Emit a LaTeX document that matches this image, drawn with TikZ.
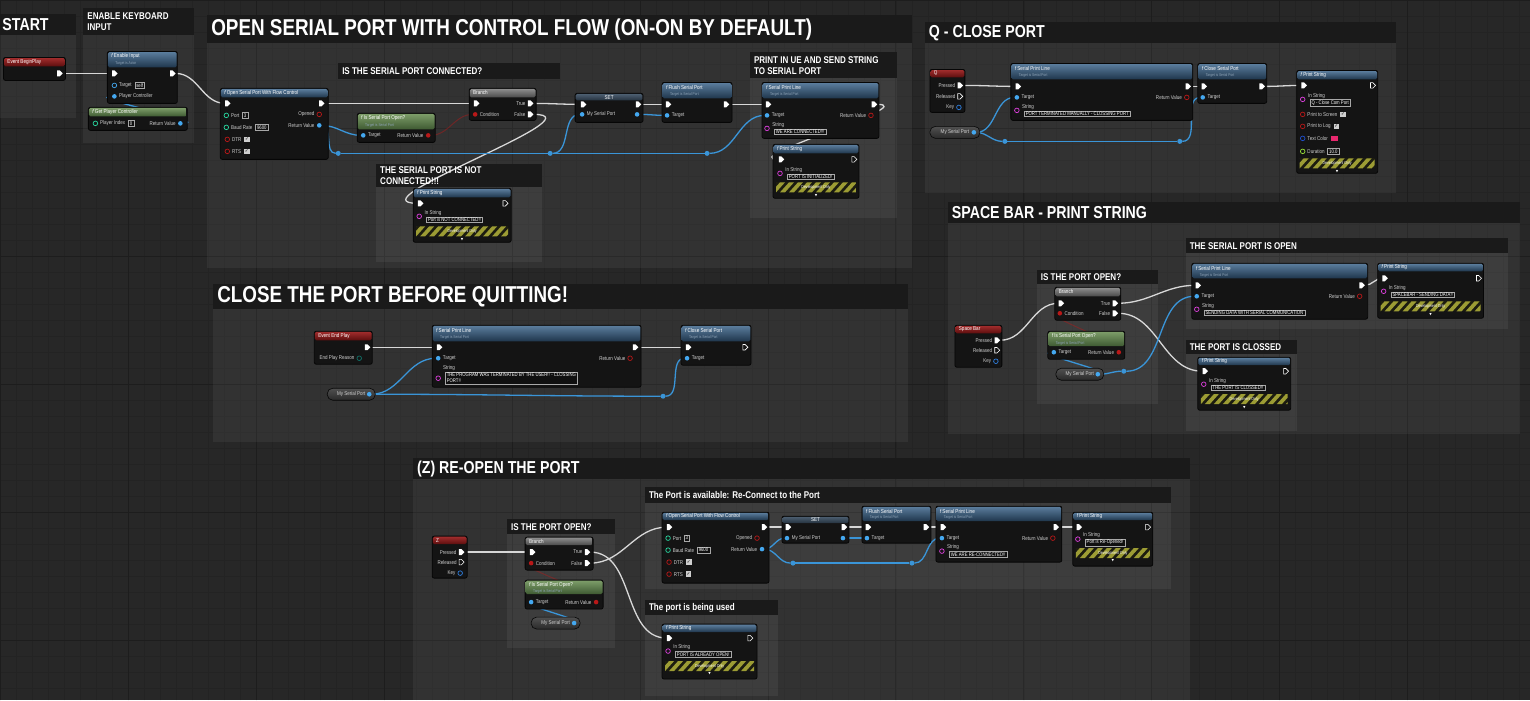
\documentclass[tikz,border=0pt]{standalone}
\usepackage{fontspec}
\setmainfont{Liberation Sans}[FakeStretch=0.82]
\newfontfamily\symfont{DejaVu Sans}
\usepackage{tikz}
\usetikzlibrary{shapes.symbols}
\definecolor{BgCol}{HTML}{272727}
\definecolor{GridMinor}{HTML}{232323}
\definecolor{GridMajor}{HTML}{1D1D1D}
\definecolor{CmtBar}{HTML}{1A1A1A}
\definecolor{NodeBody}{HTML}{141414}
\definecolor{NodeLine}{HTML}{060606}
\definecolor{FnTop}{HTML}{5A7C9C}
\definecolor{FnBot}{HTML}{1F364C}
\definecolor{EvTop}{HTML}{A02C2C}
\definecolor{EvBot}{HTML}{5C0E0E}
\definecolor{PureTop}{HTML}{7C9C68}
\definecolor{PureBot}{HTML}{3E5A32}
\definecolor{BrTop}{HTML}{8C8C8C}
\definecolor{BrBot}{HTML}{4A4A4A}
\definecolor{SetTop}{HTML}{4C5E70}
\definecolor{SetBot}{HTML}{25323F}
\definecolor{ExecWire}{HTML}{D8D8D8}
\definecolor{ObjWire}{HTML}{3A95D8}
\definecolor{ObjPin}{HTML}{44A8F0}
\definecolor{BoolPin}{HTML}{B81818}
\definecolor{StrPin}{HTML}{E040E0}
\definecolor{IntPin}{HTML}{28D8A0}
\definecolor{FltPin}{HTML}{98E038}
\definecolor{KeyPin}{HTML}{2E7FE0}
\definecolor{ColPin}{HTML}{2050D0}
\definecolor{EnumPin}{HTML}{107068}
\definecolor{PinText}{HTML}{D0D0D0}
\definecolor{SubText}{HTML}{8FA4B8}
\definecolor{FieldLine}{HTML}{A8A8A8}
\definecolor{FieldFill}{HTML}{101010}
\definecolor{ChkFill}{HTML}{CFCFCF}
\definecolor{HazYel}{HTML}{9C9C34}
\definecolor{HazDark}{HTML}{1C1C10}
\definecolor{Swatch}{HTML}{E8286E}
\definecolor{VarTop}{HTML}{505050}
\definecolor{VarBot}{HTML}{2A2A2A}
\pgfdeclarelayer{bg}
\pgfdeclarelayer{wires}
\pgfsetlayers{bg,wires,main}
% comment box: name, x, y, w, h, bar height, title style, title
\newcommand{\bpcomment}[8]{%
  \begin{pgfonlayer}{bg}
    \fill[cmtbody] (#2,#3) rectangle ++(#4,#5);
    \fill[cmtbar] (#2,#3) rectangle ++(#4,#6);
  \end{pgfonlayer}
  \node[#7,anchor=west] (#1) at ({#2+4},{#3+#6/2}) {#8};}
% blueprint node: name, x, y, w, h, header height, header style
\newcommand{\bpnode}[7]{%
  \node[bpbody,minimum width=#4pt,minimum height=#5pt,anchor=north west] (#1) at (#2,#3) {};
  \path[#7,rounded corners=1.5pt] ({#2+0.6},{#3+0.6}) rectangle ({#2+#4-0.6},{#3+#6});}
\newcommand{\bptitle}[3]{\node[nodetitle,anchor=west] (#1-ttl) at ([shift={(4pt,-#2pt)}]#1.north west) {#3};}
\newcommand{\bpsubt}[2]{\node[nodesub,anchor=west] (#1-sub) at ([shift={(8pt,-11.8pt)}]#1.north west) {#2};}
\newcommand{\pinin}[4]{\node[#3] (#1) at (#2) {};
  \node[plabel,anchor=west] (#1-l) at ([xshift=2.5pt]#1.east) {#4};}
\newcommand{\pinout}[4]{\node[#3] (#1) at (#2) {};
  \node[plabel,anchor=east] (#1-l) at ([xshift=-2.5pt]#1.west) {#4};}
\newcommand{\field}[3]{\node[fieldbox,anchor=west] (#1) at ([xshift=3pt]#2.east) {#3};}
\newcommand{\bpcheck}[2]{\node[chk,anchor=west] (#1) at ([xshift=3pt]#2.east) {\symfont ✓};}
\newcommand{\strpin}[4]{\node[strp] (#1) at (#2) {};
  \node[plabel,anchor=west] (#1-l) at ([shift={(3pt,3.6pt)}]#1.east) {#3};
  \node[fieldbox,anchor=west] (#1-f) at ([shift={(5pt,-3.4pt)}]#1.east) {#4};}
\newcommand{\varget}[4]{\node[varget,minimum width=#4pt,anchor=west] (#1) at (#2,#3) {My Serial Port\hspace{7pt}};
  \node[objp] (#1-o) at ([xshift=-6pt]#1.east) {};}
\newcommand{\devonly}[4]{%
  \begin{scope}[shift={(#2,#3)}]
    \begin{scope}
      \clip (0,0) rectangle (#4,10);
      \fill[HazDark] (0,0) rectangle (#4,10);
      \foreach \s in {-14,-5,...,#4}{\fill[HazYel] (\s,10) -- ++(5,0) -- ++(9,-10) -- ++(-5,0) -- cycle;}
    \end{scope}
    \node[devtext] (#1) at ({#4/2},5) {Development Only};
    \node[devtext] (#1-a) at ({#4/2},13) {\symfont\fontsize{3.2}{3.2}\selectfont ▼};
  \end{scope}}

\begin{document}
\begin{tikzpicture}[x=1pt,y=-1pt,
  every node/.style={inner sep=0pt,outer sep=0pt,text=white},
  cmtbody/.style={fill=white,fill opacity=0.055},
  cmtbar/.style={fill=CmtBar},
  cmthuge/.style={font=\bfseries\fontsize{23}{25}\selectfont},
  cmtbig/.style={font=\bfseries\fontsize{17.3}{19}\selectfont},
  cmtsmall/.style={font=\bfseries\fontsize{9.8}{11.2}\selectfont,align=left},
  bpbody/.style={draw=NodeLine,fill=NodeBody,rounded corners=2pt,line width=0.8pt},
  fnhead/.style={top color=FnTop,bottom color=FnBot},
  evhead/.style={top color=EvTop,bottom color=EvBot},
  purehead/.style={top color=PureTop,bottom color=PureBot},
  brhead/.style={top color=BrTop,bottom color=BrBot},
  sethead/.style={top color=SetTop,bottom color=SetBot},
  nodetitle/.style={font=\fontsize{5.6}{6.5}\selectfont},
  nodesub/.style={font=\fontsize{4}{5}\selectfont,text=SubText},
  plabel/.style={font=\fontsize{5.5}{6}\selectfont,text=PinText},
  fieldbox/.style={draw=FieldLine,line width=0.4pt,fill=FieldFill,font=\fontsize{5.2}{6}\selectfont,inner xsep=1.6pt,inner ysep=1pt,align=left},
  chk/.style={fill=ChkFill,text=black,minimum size=5.5pt,font=\fontsize{4.5}{4.5}\selectfont},
  swatch/.style={fill=Swatch,minimum width=7pt,minimum height=5.5pt},
  devtext/.style={font=\fontsize{4.3}{5}\selectfont},
  xp/.style={shape=signal,fill=white,minimum width=5.5pt,minimum height=6pt},
  xo/.style={shape=signal,draw=white,line width=0.6pt,minimum width=5pt,minimum height=5.5pt},
  dp/.style={circle,minimum size=4.6pt,line width=0.7pt},
  objp/.style={dp,fill=ObjPin},
  objo/.style={dp,draw=ObjPin},
  boolp/.style={dp,fill=BoolPin},
  boolo/.style={dp,draw=BoolPin},
  strp/.style={dp,draw=StrPin},
  intp/.style={dp,draw=IntPin},
  fltp/.style={dp,draw=FltPin},
  keyp/.style={dp,draw=KeyPin},
  colp/.style={dp,draw=ColPin},
  enump/.style={dp,draw=EnumPin},
  knot/.style={circle,fill=ObjWire,minimum size=5pt},
  varget/.style={rounded corners=5.5pt,top color=VarTop,bottom color=VarBot,draw=NodeLine,line width=0.6pt,minimum height=12pt,font=\fontsize{5.5}{6}\selectfont,text=PinText},
  xw/.style={draw=ExecWire,line width=1.3pt},
  ow/.style={draw=ObjWire,line width=1.3pt},
  bw/.style={draw=BoolPin,line width=1pt,draw opacity=0.45},
  bz/.style={out=0,in=180}]
\begin{pgfonlayer}{bg}
\fill[BgCol] (0,0) rectangle (1530,700);
\draw[GridMinor,line width=0.6pt,step=16pt] (0pt,-700pt) grid (1530pt,0pt);
\draw[GridMajor,line width=0.9pt,step=128pt] (0pt,-700pt) grid (1530pt,0pt);
\end{pgfonlayer}
\useasboundingbox (0,0) rectangle (1530,700);

% start
\bpcomment{cstart}{-2}{14}{78}{104}{21}{cmtbig}{START}
\bpnode{bgp}{3}{57}{62}{23}{9}{evhead}
\bptitle{bgp}{4.5}{Event BeginPlay}
\pinout{bgp-o}{58,73}{xp}{}

% keyboard input
\bpcomment{ckey}{83}{8}{111}{135}{27}{cmtsmall}{ENABLE KEYBOARD\\INPUT}
\bpnode{eni}{107}{51}{70}{52}{16}{fnhead}
\bptitle{eni}{5}{{\itshape f} Enable Input}
\bpsubt{eni}{Target is Actor}
\pinin{eni-i}{113,73}{xp}{}
\pinout{eni-o}{171,73}{xp}{}
\pinin{eni-tg}{114,85}{objo}{Target}
\field{eni-tgf}{eni-tg-l}{self}
\pinin{eni-pc}{114,96}{objp}{Player Controller}
\bpnode{gpc}{88}{107}{99}{23}{9}{purehead}
\bptitle{gpc}{4.5}{{\itshape f} Get Player Controller}
\pinin{gpc-pi}{95,123}{intp}{Player Index}
\field{gpc-pif}{gpc-pi-l}{0}
\pinout{gpc-rv}{180,123}{objp}{Return Value}

% open serial port
\bpcomment{copen}{207}{15}{705}{253}{28}{cmthuge}{OPEN SERIAL PORT WITH CONTROL FLOW (ON-ON BY DEFAULT)}
\bpcomment{cconn}{338}{63}{222}{16}{16}{cmtsmall}{IS THE SERIAL PORT CONNECTED?}
\bpcomment{cnotc}{376}{164}{166}{98}{23}{cmtsmall}{THE SERIAL PORT IS NOT\\CONNECTED!!!}
\bpcomment{cprint}{750}{52}{147}{166}{26}{cmtsmall}{PRINT IN UE AND SEND STRING\\TO SERIAL PORT}
\bpnode{opn}{220}{88}{108}{71}{9}{fnhead}
\bptitle{opn}{4.5}{{\itshape f} Open Serial Port With Flow Control}
\pinin{opn-i}{226,103}{xp}{}
\pinout{opn-o}{320,103}{xp}{}
\pinin{opn-pt}{226,115}{intp}{Port}
\field{opn-ptf}{opn-pt-l}{3}
\pinin{opn-br}{226,127}{intp}{Baud Rate}
\field{opn-brf}{opn-br-l}{9600}
\pinin{opn-dt}{227,139}{boolo}{DTR}
\bpcheck{opn-dtc}{opn-dt-l}
\pinin{opn-rt}{227,151}{boolo}{RTS}
\bpcheck{opn-rtc}{opn-rt-l}
\pinout{opn-op}{319,114}{boolo}{Opened}
\pinout{opn-rv}{319,125}{objp}{Return Value}
\bpnode{ispa}{357}{113}{78}{29}{16}{purehead}
\bptitle{ispa}{5}{{\itshape f} Is Serial Port Open?}
\bpsubt{ispa}{Target is Serial Port}
\pinin{ispa-tg}{363,135}{objp}{Target}
\pinout{ispa-rv}{428,135}{boolp}{Return Value}
\bpnode{bra}{469}{88}{67}{32}{9}{brhead}
\bptitle{bra}{4.5}{Branch}
\pinin{bra-i}{475,103}{xp}{}
\pinout{bra-t}{529,103}{xp}{True}
\pinin{bra-c}{475,114}{boolp}{Condition}
\pinout{bra-f}{529,114}{xp}{False}
\bpnode{seta}{575}{93}{68}{29}{7}{sethead}
\node[nodetitle] (seta-ttl) at ([yshift=-3.8pt]seta.north) {SET};
\pinin{seta-i}{582,104}{xp}{}
\pinout{seta-o}{637,104}{xp}{}
\pinin{seta-mi}{582,114}{objp}{My Serial Port}
\pinout{seta-mo}{637,114}{objp}{}
\bpnode{flsa}{662}{82}{70}{40}{16}{fnhead}
\bptitle{flsa}{5}{{\itshape f} Flush Serial Port}
\bpsubt{flsa}{Target is Serial Port}
\pinin{flsa-i}{667,104}{xp}{}
\pinout{flsa-o}{725,104}{xp}{}
\pinin{flsa-tg}{667,115}{objp}{Target}
\bpnode{spa}{762}{82}{117}{56}{16}{fnhead}
\bptitle{spa}{5}{{\itshape f} Serial Print Line}
\bpsubt{spa}{Target is Serial Port}
\pinin{spa-i}{767,104}{xp}{}
\pinout{spa-o}{873,104}{xp}{}
\pinin{spa-tg}{767,115}{objp}{Target}
\pinout{spa-rv}{871,115}{boolo}{Return Value}
\strpin{spa-s}{767,128}{String}{WE ARE CONNECTED!!!}
\bpnode{psa}{773}{144}{86}{54}{9}{fnhead}
\bptitle{psa}{4.5}{{\itshape f} Print String}
\pinin{psa-i}{780,159}{xp}{}
\pinout{psa-o}{853,159}{xo}{}
\strpin{psa-s}{780,173}{In String}{PORT IS INITIALIZED!}
\devonly{psa-d}{776}{182}{80}
\bpnode{psb}{413}{188}{98}{54}{9}{fnhead}
\bptitle{psb}{4.5}{{\itshape f} Print String}
\pinin{psb-i}{419,203}{xp}{}
\pinout{psb-o}{504,203}{xo}{}
\strpin{psb-s}{419,216}{In String}{Port is NOT CONNECTED!!}
\devonly{psb-d}{416}{226}{92}
\node[knot] (kn1) at (338,153) {};
\node[knot] (kn2) at (550,153) {};
\node[knot] (kn3) at (707,153) {};

% close before quitting
\bpcomment{cquit}{213}{284}{695}{158}{25}{cmthuge}{CLOSE THE PORT BEFORE QUITTING!}
\bpnode{eep}{314}{331}{58}{33}{9}{evhead}
\bptitle{eep}{4.5}{Event End Play}
\pinout{eep-o}{366,347}{xp}{}
\pinout{eep-r}{359,358}{enump}{End Play Reason}
\bpnode{spb}{432}{325}{209}{62}{16}{fnhead}
\bptitle{spb}{5}{{\itshape f} Serial Print Line}
\bpsubt{spb}{Target is Serial Port}
\pinin{spb-i}{438,347}{xp}{}
\pinout{spb-o}{634,347}{xp}{}
\pinin{spb-tg}{438,358}{objp}{Target}
\pinout{spb-rv}{630,358}{boolo}{Return Value}
\node[strp] (spb-s) at (438,378) {};
\node[plabel,anchor=west] (spb-s-l) at (443,368) {String};
\node[fieldbox,anchor=north west] (spb-s-f) at (445,372) {THE PROGRAM WAS TERMINATED BY THE USER!! - CLOSSING\\PORT!!};
\bpnode{csb}{681}{325}{70}{40}{16}{fnhead}
\bptitle{csb}{5}{{\itshape f} Close Serial Port}
\bpsubt{csb}{Target is Serial Port}
\pinin{csb-i}{687,347}{xp}{}
\pinout{csb-o}{744,347}{xo}{}
\pinin{csb-tg}{687,358}{objp}{Target}
\varget{mspb}{327}{394}{48}
\node[knot] (kn4) at (663,396) {};

% q - close port
\bpcomment{cq}{925}{22}{471}{171}{21}{cmtbig}{Q - CLOSE PORT}
\bpnode{qk}{930}{69}{35}{43}{8}{evhead}
\bptitle{qk}{4}{Q}
\pinout{qk-p}{959,85}{xp}{Pressed}
\pinout{qk-r}{959,96}{xo}{Released}
\pinout{qk-k}{959,107}{keyp}{Key}
\bpnode{spc}{1011}{63}{182}{57}{16}{fnhead}
\bptitle{spc}{5}{{\itshape f} Serial Print Line}
\bpsubt{spc}{Target is Serial Port}
\pinin{spc-i}{1017,86}{xp}{}
\pinout{spc-o}{1187,86}{xp}{}
\pinin{spc-tg}{1017,97}{objp}{Target}
\pinout{spc-rv}{1187,97}{boolo}{Return Value}
\strpin{spc-s}{1017,110}{String}{PORT TERMINATED MANUALLY - CLOSSING PORT}
\bpnode{csc}{1198}{63}{69}{40}{16}{fnhead}
\bptitle{csc}{5}{{\itshape f} Close Serial Port}
\bpsubt{csc}{Target is Serial Port}
\pinin{csc-i}{1203,86}{xp}{}
\pinout{csc-o}{1261,86}{xp}{}
\pinin{csc-tg}{1203,97}{objp}{Target}
\bpnode{psc}{1297}{70}{81}{103}{9}{fnhead}
\bptitle{psc}{4.5}{{\itshape f} Print String}
\pinin{psc-i}{1303,85}{xp}{}
\pinout{psc-o}{1372,85}{xo}{}
\strpin{psc-s}{1303,99}{In String}{Q - Close Com Port}
\pinin{psc-sc}{1303,114}{boolo}{Print to Screen}
\bpcheck{psc-scc}{psc-sc-l}
\pinin{psc-lg}{1303,126}{boolo}{Print to Log}
\bpcheck{psc-lgc}{psc-lg-l}
\pinin{psc-tc}{1303,138}{colp}{Text Color}
\node[swatch,anchor=west] (psc-tcs) at ([xshift=3pt]psc-tc-l.east) {};
\pinin{psc-du}{1303,151}{fltp}{Duration}
\field{psc-duf}{psc-du-l}{10.0}
\devonly{psc-d}{1300}{158}{75}
\varget{mspc}{930}{132}{50}
\node[knot] (kn5) at (1005,141) {};
\node[knot] (kn6) at (1180,141) {};

% space bar
\bpcomment{csp}{948}{202}{572}{232}{21}{cmtbig}{SPACE BAR - PRINT STRING}
\bpcomment{cspq}{1037}{270}{121}{134}{14}{cmtsmall}{IS THE PORT OPEN?}
\bpcomment{cspo}{1186}{238}{322}{91}{15}{cmtsmall}{THE SERIAL PORT IS OPEN}
\bpcomment{cspc}{1186}{340}{111}{91}{14}{cmtsmall}{THE PORT IS CLOSSED}
\bpnode{sbk}{955}{325}{47}{42}{8}{evhead}
\bptitle{sbk}{4}{Space Bar}
\pinout{sbk-p}{996,340}{xp}{Pressed}
\pinout{sbk-r}{996,350}{xo}{Released}
\pinout{sbk-k}{996,361}{keyp}{Key}
\bpnode{brb}{1055}{287}{66}{33}{9}{brhead}
\bptitle{brb}{4.5}{Branch}
\pinin{brb-i}{1060,303}{xp}{}
\pinout{brb-t}{1114,303}{xp}{True}
\pinin{brb-c}{1060,313}{boolp}{Condition}
\pinout{brb-f}{1114,313}{xp}{False}
\bpnode{ispb}{1048}{331}{77}{28}{15}{purehead}
\bptitle{ispb}{5}{{\itshape f} Is Serial Port Open?}
\bpsubt{ispb}{Target is Serial Port}
\pinin{ispb-tg}{1054,352}{objp}{Target}
\pinout{ispb-rv}{1119,352}{boolp}{Return Value}
\varget{mspd}{1056}{374}{48}
\node[knot] (kn7) at (1124,371) {};
\bpnode{spd}{1192}{263}{176}{56}{15}{fnhead}
\bptitle{spd}{5}{{\itshape f} Serial Print Line}
\bpsubt{spd}{Target is Serial Port}
\pinin{spd-i}{1197,285}{xp}{}
\pinout{spd-o}{1361,285}{xp}{}
\pinin{spd-tg}{1197,296}{objp}{Target}
\pinout{spd-rv}{1360,296}{boolo}{Return Value}
\strpin{spd-s}{1197,309}{String}{SENDING DATA WITH SERIAL COMMUNICATION}
\bpnode{psd}{1378}{263}{106}{55}{8}{fnhead}
\bptitle{psd}{4}{{\itshape f} Print String}
\pinin{psd-i}{1384,278}{xp}{}
\pinout{psd-o}{1478,278}{xo}{}
\strpin{psd-s}{1384,291}{In String}{SPACEBAR - SENDING DATA!!}
\devonly{psd-d}{1381}{301}{100}
\bpnode{pse}{1198}{357}{93}{53}{8}{fnhead}
\bptitle{pse}{4}{{\itshape f} Print String}
\pinin{pse-i}{1204,371}{xp}{}
\pinout{pse-o}{1285,371}{xo}{}
\strpin{pse-s}{1204,384}{In String}{THE PORT IS CLOSSED!!}
\devonly{pse-d}{1201}{394}{87}

% z - re-open the port
\bpcomment{cz}{413}{458}{777}{242}{21}{cmtbig}{(Z) RE-OPEN THE PORT}
\bpcomment{czq}{507}{519}{108}{129}{15}{cmtsmall}{IS THE PORT OPEN?}
\bpcomment{cza}{645}{487}{526}{102}{16}{cmtsmall}{The Port is available: Re-Connect to the Port}
\bpcomment{czu}{645}{600}{133}{96}{15}{cmtsmall}{The port is being used}
\bpnode{zk}{432}{536}{35}{42}{8}{evhead}
\bptitle{zk}{4}{Z}
\pinout{zk-p}{460,552}{xp}{Pressed}
\pinout{zk-r}{460,562}{xo}{Released}
\pinout{zk-k}{460,573}{keyp}{Key}
\bpnode{brz}{525}{537}{68}{33}{8}{brhead}
\bptitle{brz}{4}{Branch}
\pinin{brz-i}{531,552}{xp}{}
\pinout{brz-t}{586,552}{xp}{True}
\pinin{brz-c}{531,563}{boolp}{Condition}
\pinout{brz-f}{586,563}{xp}{False}
\bpnode{ispc}{525}{580}{78}{29}{14}{purehead}
\bptitle{ispc}{5}{{\itshape f} Is Serial Port Open?}
\bpsubt{ispc}{Target is Serial Port}
\pinin{ispc-tg}{531,602}{objp}{Target}
\pinout{ispc-rv}{596,602}{boolp}{Return Value}
\varget{mspe}{531}{623}{49}
\bpnode{opb}{662}{512}{107}{71}{8}{fnhead}
\bptitle{opb}{4}{{\itshape f} Open Serial Port With Flow Control}
\pinin{opb-i}{668,527}{xp}{}
\pinout{opb-o}{763,527}{xp}{}
\pinin{opb-pt}{668,538}{intp}{Port}
\field{opb-ptf}{opb-pt-l}{3}
\pinin{opb-br}{668,550}{intp}{Baud Rate}
\field{opb-brf}{opb-br-l}{9600}
\pinin{opb-dt}{669,562}{boolo}{DTR}
\bpcheck{opb-dtc}{opb-dt-l}
\pinin{opb-rt}{669,574}{boolo}{RTS}
\bpcheck{opb-rtc}{opb-rt-l}
\pinout{opb-op}{757,538}{boolo}{Opened}
\pinout{opb-rv}{762,549}{objp}{Return Value}
\bpnode{setb}{782}{516}{67}{27}{7}{sethead}
\node[nodetitle] (setb-ttl) at ([yshift=-3.8pt]setb.north) {SET};
\pinin{setb-i}{787,527}{xp}{}
\pinout{setb-o}{843,527}{xp}{}
\pinin{setb-mi}{787,538}{objp}{My Serial Port}
\pinout{setb-mo}{843,538}{objp}{}
\bpnode{flsb}{862}{506}{69}{37}{15}{fnhead}
\bptitle{flsb}{5}{{\itshape f} Flush Serial Port}
\bpsubt{flsb}{Target is Serial Port}
\pinin{flsb-i}{867,527}{xp}{}
\pinout{flsb-o}{925,527}{xp}{}
\pinin{flsb-tg}{867,538}{objp}{Target}
\bpnode{spe}{936}{506}{126}{56}{15}{fnhead}
\bptitle{spe}{5}{{\itshape f} Serial Print Line}
\bpsubt{spe}{Target is Serial Port}
\pinin{spe-i}{942,527}{xp}{}
\pinout{spe-o}{1055,527}{xp}{}
\pinin{spe-tg}{942,538}{objp}{Target}
\pinout{spe-rv}{1053,538}{boolo}{Return Value}
\strpin{spe-s}{942,551}{String}{WE ARE RE-CONNECTED!!}
\bpnode{psf}{1073}{512}{80}{54}{8}{fnhead}
\bptitle{psf}{4}{{\itshape f} Print String}
\pinin{psf-i}{1078,527}{xp}{}
\pinout{psf-o}{1147,527}{xo}{}
\strpin{psf-s}{1078,539}{In String}{Port is Re-Opened!}
\devonly{psf-d}{1076}{548}{74}
\bpnode{psg}{662}{624}{95}{55}{8}{fnhead}
\bptitle{psg}{4}{{\itshape f} Print String}
\pinin{psg-i}{668,638}{xp}{}
\pinout{psg-o}{749,638}{xo}{}
\strpin{psg-s}{668,651}{In String}{PORT IS ALREADY OPEN!}
\devonly{psg-d}{665}{661}{89}
\node[knot] (kn8) at (793,563) {};
\node[knot] (kn9) at (912,563) {};

\begin{pgfonlayer}{wires}
% start, input, open serial port
\draw[xw] (bgp-o.east) to[bz] (eni-i.west);
\draw[xw] (eni-o.east) to[bz] (opn-i.west);
\draw[xw] (opn-o.east) to[bz] (bra-i.west);
\draw[xw] (bra-t.east) to[bz] (seta-i.west);
\draw[xw] (seta-o.east) to[bz] (flsa-i.west);
\draw[xw] (flsa-o.east) to[bz] (spa-i.west);
\draw[xw] (spa-o.east) .. controls +(45,0) and +(-45,0) .. (psa-i.west);
\draw[xw] (bra-f.east) .. controls +(70,0) and +(-70,0) .. (psb-i.west);
\draw[ow] (gpc-rv) .. controls +(35,0) and +(-35,0) .. (eni-pc);
\draw[ow] (opn-rv) to[bz] (ispa-tg);
\draw[ow] (opn-rv) to[bz] (kn1);
\draw[ow] (kn1) -- (kn2) -- (kn3);
\draw[ow] (kn2) to[bz] (seta-mi);
\draw[ow] (seta-mo) to[bz] (flsa-tg);
\draw[ow] (kn3) to[bz] (spa-tg);
\draw[bw] (ispa-rv) to[bz] (bra-c);
% before quitting
\draw[xw] (eep-o.east) to[bz] (spb-i.west);
\draw[xw] (spb-o.east) to[bz] (csb-i.west);
\draw[ow] (mspb-o) to[bz] (spb-tg);
\draw[ow] (mspb-o) to[bz] (kn4);
\draw[ow] (kn4) to[bz] (csb-tg);
% q
\draw[xw] (qk-p.east) to[bz] (spc-i.west);
\draw[xw] (spc-o.east) to[bz] (csc-i.west);
\draw[xw] (csc-o.east) to[bz] (psc-i.west);
\draw[ow] (mspc-o) to[bz] (spc-tg);
\draw[ow] (mspc-o) to[bz] (kn5);
\draw[ow] (kn5) -- (kn6);
\draw[ow] (kn6) to[bz] (csc-tg);
% space bar
\draw[xw] (sbk-p.east) to[bz] (brb-i.west);
\draw[xw] (brb-t.east) to[bz] (spd-i.west);
\draw[xw] (brb-f.east) to[bz] (pse-i.west);
\draw[xw] (spd-o.east) to[bz] (psd-i.west);
\draw[ow] (mspd-o) .. controls +(25,0) and +(-25,0) .. (ispb-tg);
\draw[ow] (mspd-o) to[bz] (kn7);
\draw[ow] (kn7) to[bz] (spd-tg);
\draw[bw] (ispb-rv) .. controls +(25,0) and +(-25,0) .. (brb-c);
% z
\draw[xw] (zk-p.east) to[bz] (brz-i.west);
\draw[xw] (brz-f.east) to[bz] (opb-i.west);
\draw[xw] (brz-t.east) to[bz] (psg-i.west);
\draw[xw] (opb-o.east) to[bz] (setb-i.west);
\draw[xw] (setb-o.east) to[bz] (flsb-i.west);
\draw[xw] (flsb-o.east) to[bz] (spe-i.west);
\draw[xw] (spe-o.east) to[bz] (psf-i.west);
\draw[ow] (opb-rv) to[bz] (setb-mi);
\draw[ow] (opb-rv) to[bz] (kn8);
\draw[ow] (kn8) -- (kn9);
\draw[ow] (kn9) to[bz] (spe-tg);
\draw[ow] (setb-mo) to[bz] (flsb-tg);
\draw[ow] (mspe-o) .. controls +(20,0) and +(-20,0) .. (ispc-tg);
\draw[bw] (ispc-rv) .. controls +(25,0) and +(-25,0) .. (brz-c);
\end{pgfonlayer}
\end{tikzpicture}
\end{document}
